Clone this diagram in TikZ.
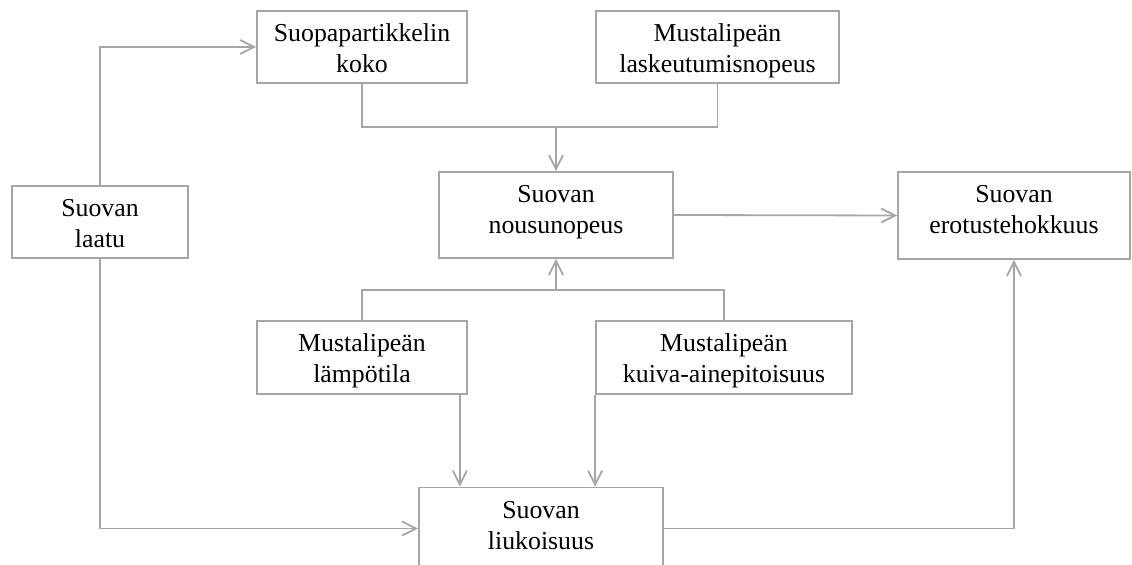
\documentclass[tikz,border=0pt]{standalone}
\usepackage{fontspec}
\setmainfont{Liberation Serif}
\usetikzlibrary{positioning,arrows.meta,calc}
\definecolor{linegray}{RGB}{166,166,166}
\tikzset{%
  line/.style     = { draw = linegray, line width = 0.9pt },
  arrow/.style    = { line, -{Straight Barb[length = 7pt, width = 7pt]} },
  tbox/.style     = { draw = linegray, line width = 0.9pt, text width = #1, align = center, inner sep = 0pt,
    text height = 15.5pt, text depth = 20.5pt, font = \fontsize{12.9}{15.5}\selectfont },
  tall/.style     = { text depth = 27.5pt },
}
\newcommand{\nodelabel}[1]{{#1}}

\begin{document}
\begin{tikzpicture}[x=0.5pt, y=-0.5pt]
    \clip (0,0) rectangle (1132,565);
    % nodes ----------------------------------------------------------------------------------------
    % top row
    \node(suopa) [tbox=105pt]   at (362,47)     {\nodelabel{Suopapartikkelin\\koko}};
    \node(lasku) [tbox=121.5pt] at (717.5,47)   {\nodelabel{Mustalipeän\\laskeutumisnopeus}};
    % middle row
    \node(laatu)  [tbox=88pt]          at (100,222)    {\nodelabel{Suovan\\laatu}};
    \node(nousu)  [tbox=117pt, tall]   at (556,215)    {\nodelabel{Suovan\\nousunopeus}};
    \node(erotus) [tbox=116pt, tall, text depth=28pt] at (1014,215.5) {\nodelabel{Suovan\\erotustehokkuus}};
    % lower row
    \node(lampo) [tbox=105pt, text depth=21pt] at (362,357.5) {\nodelabel{Mustalipeän\\lämpötila}};
    \node(kuiva) [tbox=128pt, text depth=21pt] at (724,357.5) {\nodelabel{Mustalipeän\\kuiva-ainepitoisuus}};
    % bottom (cut off by the page edge)
    \node(liuko) [tbox=122pt, tall]    at (541,530.5)  {\nodelabel{Suovan\\liukoisuus}};
    % joints
    \coordinate (jtop) at (556,127);
    \coordinate (jbot) at (556,290);
    % arrows ---------------------------------------------------------------------------------------
    % quality
    \draw[arrow] (laatu.north) |- (suopa.west);
    \draw[arrow] (laatu.south) |- ([yshift=1pt]liuko.west);
    % rise speed
    \draw[line]  (suopa.south) |- (jtop) -| (lasku.south);
    \draw[arrow] (jtop) -- (nousu.north);
    \draw[line]  (lampo.north) |- (jbot) -| (kuiva.north);
    \draw[arrow] (jbot) -- (nousu.south);
    \draw[arrow] (nousu.east) -- (erotus.west);
    % solubility
    \draw[arrow] ([xshift=-4pt]lampo.south east) -- ([xshift=-4pt]lampo.south east |- liuko.north);
    \draw[arrow] (kuiva.south west) -- (kuiva.south west |- liuko.north);
    \draw[arrow] ([yshift=1pt]liuko.east) -| (erotus.south);
  \end{tikzpicture}
\end{document}
